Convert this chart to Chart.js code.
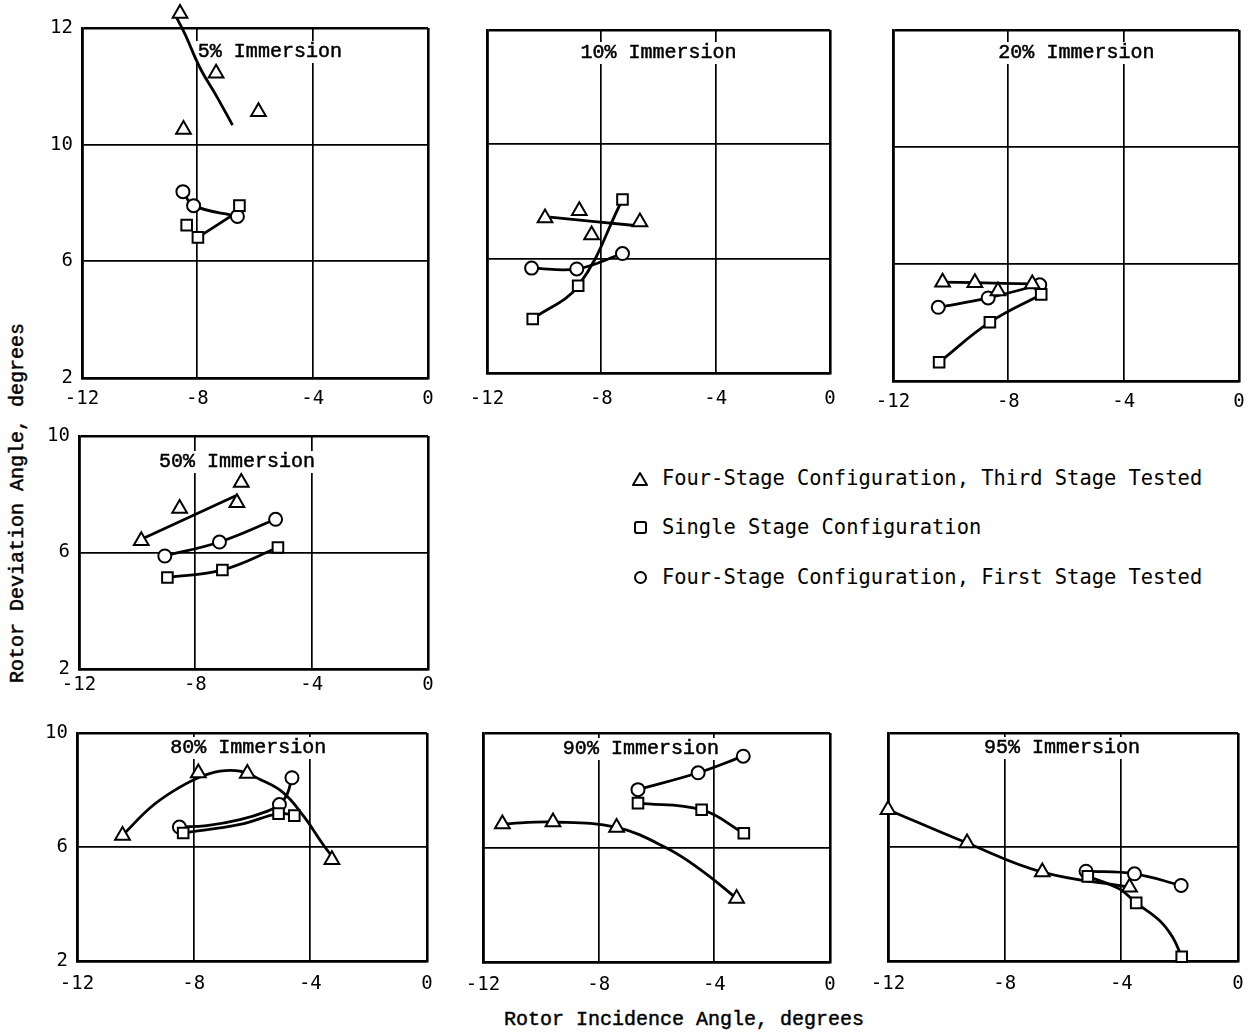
<!DOCTYPE html>
<html>
<head>
<meta charset="utf-8">
<script src="https://cdn.jsdelivr.net/npm/chart.js@4/dist/chart.umd.min.js"></script>
<style>
  body { margin:0; background:#fff; width:1249px; height:1036px; position:relative; overflow:hidden;
         font-family:"Liberation Mono","Courier New",monospace; font-size:20px; color:#000; }
  canvas { position:absolute; }
  .txt { position:absolute; white-space:nowrap; line-height:1; }
  .serif { -webkit-text-stroke:0.45px #000; }
  .leg { font-family:"DejaVu Sans Mono",monospace; font-size:20.4px; }
  .mk { position:absolute; }
</style>
</head>
<body>

<div class="mk" style="left:632px;top:470px"><svg width="16" height="16"><polygon points="8,2 15,14 1,14" fill="none" stroke="#000" stroke-width="2" stroke-linejoin="round"/></svg></div>
<div class="txt leg" style="left:662px;top:468px">Four-Stage Configuration, Third Stage Tested</div>
<div class="mk" style="left:633px;top:519px"><svg width="16" height="16"><rect x="2" y="2" width="11" height="11" rx="2" fill="none" stroke="#000" stroke-width="2"/></svg></div>
<div class="txt leg" style="left:662px;top:517px">Single Stage Configuration</div>
<div class="mk" style="left:633px;top:569px"><svg width="16" height="16"><circle cx="7.5" cy="7.5" r="5.5" fill="none" stroke="#000" stroke-width="2"/></svg></div>
<div class="txt leg" style="left:662px;top:567px">Four-Stage Configuration, First Stage Tested</div>

<div class="txt serif" style="left:18px;top:503px;transform:translate(-50%,-50%) rotate(-90deg);">Rotor Deviation Angle, degrees</div>
<div class="txt serif" style="left:684px;top:1020px;transform:translate(-50%,-50%);">Rotor Incidence Angle, degrees</div>

<script>
// ---- axis ticks ----
const xTicks = [-12, -8, -4, 0];
const xTickLabels = ['-12', '-8', '-4', '0'];
const yTicksTall = [2, 6, 10, 14];
const yTickLabelsTall = ['2', '6', '10', '12'];
const yTicksShort = [2, 6, 10];
const yTickLabelsShort = ['2', '6', '10'];

// ---- 5% immersion ----
const third5 = [[-8.6,14.5],[-7.35,12.45],[-5.88,11.13],[-8.48,10.52]];
const third5Fit = [[-8.71,14.34],[-8.42,13.77],[-7.90,12.62],[-7.32,11.64],[-6.78,10.67]];
const single5 = [[-8.37,7.24],[-7.98,6.82],[-6.54,7.91]];
const single5Fit = [[-7.98,6.82],[-6.6,7.7]];
const first5 = [[-8.5,8.39],[-8.13,7.91],[-6.61,7.54]];

// ---- 10% immersion ----
const third10 = [[-9.97,7.42],[-8.77,7.68],[-8.34,6.83],[-6.65,7.28]];
const third10Fit = [[-9.8,7.45],[-6.83,7.16]];
const single10 = [[-10.4,3.89],[-8.81,5.05],[-7.26,8.07]];
const first10 = [[-10.44,5.67],[-8.86,5.64],[-7.26,6.18]];

// ---- 20% immersion ----
const third20 = [[-10.28,5.38],[-9.16,5.36],[-8.36,5.08],[-7.17,5.32]];
const third20Fit = [[-10.28,5.38],[-9.16,5.36],[-7.17,5.32]];
const single20 = [[-10.4,2.64],[-8.64,4.01],[-6.86,4.96]];
const first20 = [[-10.43,4.52],[-8.70,4.84],[-6.91,5.29]];

// ---- 50% immersion ----
const third50 = [[-9.86,6.40],[-8.54,7.51],[-6.57,7.71],[-6.42,8.40]];
const third50Fit = [[-9.8,6.48],[-6.59,7.96]];
const single50 = [[-8.96,5.14],[-7.07,5.40],[-5.16,6.17]];
const first50 = [[-9.05,5.88],[-7.17,6.36],[-5.24,7.14]];

// ---- 80% immersion ----
const third80 = [[-10.44,6.40],[-7.84,8.60],[-6.16,8.58],[-3.26,5.55]];
const third80Fit = [[-10.36,6.49],[-9.50,7.37],[-8.70,7.96],[-7.84,8.43],[-7.10,8.66],[-6.41,8.66],
                    [-5.72,8.37],[-4.92,7.90],[-4.23,7.08],[-3.60,6.14],[-3.26,5.67]];
const single80 = [[-8.36,6.49],[-5.09,7.17],[-4.55,7.10]];
const single80Fit = [[-8.36,6.49],[-6.41,6.79],[-5.09,7.17],[-4.55,7.12]];
const first80 = [[-8.49,6.70],[-5.06,7.49],[-4.63,8.43]];
const first80Fit = [[-8.49,6.70],[-7.55,6.75],[-6.41,6.96],[-5.49,7.25],[-5.06,7.49],[-4.80,7.84],[-4.63,8.43]];

// ---- 90% immersion ----
const third90 = [[-11.33,6.82],[-9.58,6.89],[-7.38,6.70],[-3.23,4.22]];
const third90Fit = [[-11.33,6.82],[-9.58,6.89],[-7.38,6.70],[-5.65,5.98],[-4.39,5.16],[-3.23,4.22]];
const single90 = [[-6.64,7.55],[-4.44,7.32],[-2.98,6.50]];
const first90 = [[-6.64,8.02],[-4.56,8.61],[-3.00,9.19]];

// ---- 95% immersion ----
const third95 = [[-12.0,7.31],[-9.29,6.14],[-6.71,5.12],[-3.72,4.59]];
const single95 = [[-5.15,4.97],[-3.49,4.04],[-1.93,2.15]];
const single95Fit = [[-5.15,4.97],[-4.07,4.53],[-3.49,4.04],[-2.69,3.42],[-2.24,2.83],[-1.93,2.15]];
const first95 = [[-5.21,5.15],[-3.55,5.06],[-1.95,4.65]];

// ---- panel layout: plot frame [left, top, right, bottom] in page pixels ----
const SERIF = '"Liberation Mono","Courier New",monospace';
const SANS = '"DejaVu Sans Mono",monospace';
const YW = 50, TP = 25, RP = 25, XH = 40;

const panels = [
  { title:'5% Immersion',  frame:[82,28,428,378],  tfx:0.543, tdy:24, yT:yTicksTall,  yL:yTickLabelsTall,  showY:true,  xPad:10,
    third:third5, thirdFit:third5Fit, single:single5, singleFit:single5Fit, first:first5, firstFit:first5 },
  { title:'10% Immersion', frame:[487,30,830,373], tfx:0.5,   tdy:23, yT:yTicksTall,  yL:yTickLabelsTall,  showY:false, xPad:15,
    third:third10, thirdFit:third10Fit, single:single10, singleFit:single10, first:first10, firstFit:first10 },
  { title:'20% Immersion', frame:[893,30,1239,381], tfx:0.53, tdy:23, yT:yTicksTall,  yL:yTickLabelsTall,  showY:false, xPad:10,
    third:third20, thirdFit:third20Fit, single:single20, singleFit:single20, first:first20, firstFit:first20 },
  { title:'50% Immersion', frame:[79,436,428,669], tfx:0.453, tdy:26, yT:yTicksShort, yL:yTickLabelsShort, showY:true,  xPad:5,
    third:third50, thirdFit:third50Fit, single:single50, singleFit:single50, first:first50, firstFit:first50 },
  { title:'80% Immersion', frame:[77,733,427,961], tfx:0.489, tdy:15, yT:yTicksShort, yL:yTickLabelsShort, showY:true,  xPad:12,
    third:third80, thirdFit:third80Fit, single:single80, singleFit:single80Fit, first:first80, firstFit:first80Fit },
  { title:'90% Immersion', frame:[483,733,830,962], tfx:0.455, tdy:16, yT:yTicksShort, yL:yTickLabelsShort, showY:false, xPad:12,
    third:third90, thirdFit:third90Fit, single:single90, singleFit:single90, first:first90, firstFit:first90 },
  { title:'95% Immersion', frame:[888,733,1238,961], tfx:0.497, tdy:15, yT:yTicksShort, yL:yTickLabelsShort, showY:false, xPad:12,
    third:third95, thirdFit:third95, single:single95, singleFit:single95Fit, first:first95, firstFit:first95 }
];

Chart.defaults.font.family = SANS;
Chart.defaults.font.size = 19;
Chart.defaults.color = '#000';

// Panel caption drawn inside the plot frame on a white patch, under the data curves
const panelTitle = {
  id: 'panelTitle',
  beforeDatasetsDraw(chart, args, opts) {
    const { ctx, chartArea: a } = chart;
    ctx.save();
    ctx.font = '20px ' + SERIF;
    const w = ctx.measureText(opts.text).width;
    const cx = a.left + a.width * opts.fx, cy = a.top + opts.dy;
    ctx.fillStyle = '#fff';
    ctx.fillRect(cx - w / 2 - 3, cy - 11, w + 6, 22);
    ctx.fillStyle = '#000';
    ctx.strokeStyle = '#000';
    ctx.lineWidth = 0.5;
    ctx.textAlign = 'center';
    ctx.textBaseline = 'middle';
    ctx.fillText(opts.text, cx, cy);
    ctx.strokeText(opts.text, cx, cy);
    ctx.restore();
  }
};

// Markers that sit beyond the plot frame are still drawn (the library skips them otherwise)
const outsideMarkers = {
  id: 'outsideMarkers',
  afterDatasetsDraw(chart) {
    const { ctx, chartArea: a } = chart;
    chart.getSortedVisibleDatasetMetas().forEach(meta => {
      if (meta._dataset.showLine !== false) return;
      meta.data.forEach(el => {
        const r = el.options.radius;
        const inside = el.x > a.left - r && el.x < a.right + r && el.y > a.top - r && el.y < a.bottom + r;
        if (!inside) el.draw(ctx);
      });
    });
  }
};

function curve(data) {
  return { data, showLine: true, pointRadius: 0, borderColor: '#000', borderWidth: 2.8,
           tension: 0.4, clip: false, order: 1 };
}
function marks(data, style, r) {
  return { data, showLine: false, pointStyle: style, pointRadius: r, pointBorderWidth: 2,
           pointBackgroundColor: '#fff', pointBorderColor: '#000', clip: false, order: 0 };
}
function gridWidth(ctx) {
  const n = ctx.scale.ticks.length;
  return (ctx.index === 0 || ctx.index === n - 1) ? 2.6 : 1.7;
}

panels.forEach(p => {
  const [l, t, r, b] = p.frame;
  const W = (r - l) + YW + RP, H = (b - t) + TP + XH;
  const cv = document.createElement('canvas');
  cv.width = W; cv.height = H;
  cv.style.left = (l - YW) + 'px';
  cv.style.top = (t - TP) + 'px';
  cv.style.width = W + 'px';
  cv.style.height = H + 'px';
  document.body.appendChild(cv);

  new Chart(cv, {
    type: 'scatter',
    data: {
      datasets: [
        curve(p.thirdFit), curve(p.singleFit), curve(p.firstFit),
        marks(p.third, 'triangle', 8.5), marks(p.single, 'rect', 7.5), marks(p.first, 'circle', 6.5)
      ]
    },
    options: {
      responsive: false,
      devicePixelRatio: 1,
      animation: false,
      events: [],
      layout: { padding: { left: 0, top: TP, right: RP, bottom: 0 } },
      plugins: {
        legend: { display: false },
        tooltip: { enabled: false },
        panelTitle: { text: p.title, fx: p.tfx, dy: p.tdy }
      },
      scales: {
        x: {
          type: 'linear', min: -12, max: 0,
          afterBuildTicks: s => { s.ticks = xTicks.map(v => ({ value: v })); },
          afterFit: s => { s.height = XH; },
          ticks: { callback: v => xTickLabels[xTicks.indexOf(v)], padding: p.xPad, maxRotation: 0, autoSkip: false, color: '#000' },
          grid: { color: '#000', lineWidth: gridWidth, drawTicks: false },
          border: { color: '#000', width: 2.6 }
        },
        y: {
          type: 'linear', min: 2, max: p.yT[p.yT.length - 1],
          afterBuildTicks: s => { s.ticks = p.yT.map(v => ({ value: v })); },
          afterFit: s => { s.width = YW; },
          ticks: { display: p.showY, callback: v => p.yL[p.yT.indexOf(v)], padding: 9, color: '#000' },
          grid: { color: '#000', lineWidth: gridWidth, drawTicks: false },
          border: { color: '#000', width: 2.6 }
        }
      }
    },
    plugins: [panelTitle, outsideMarkers]
  });
});
</script>
</body>
</html>
